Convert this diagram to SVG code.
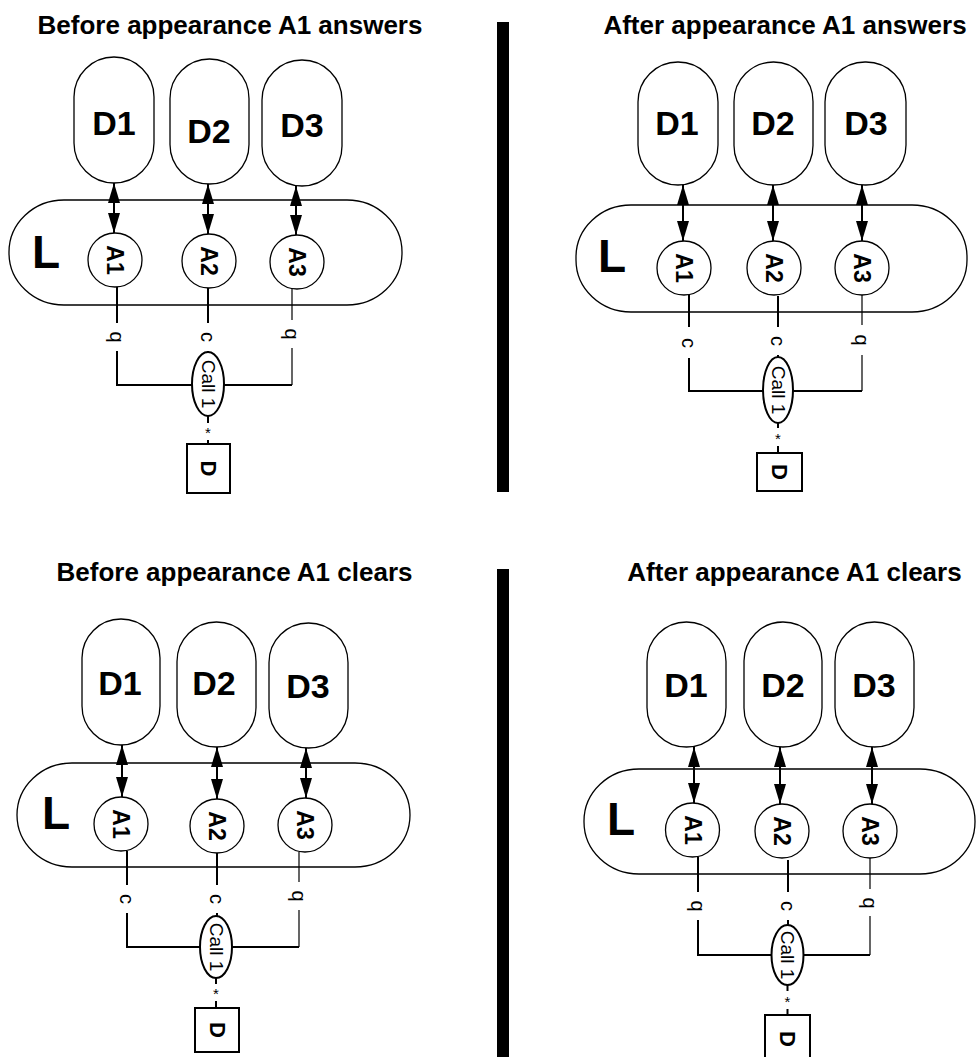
<svg xmlns="http://www.w3.org/2000/svg" width="977" height="1057" viewBox="0 0 977 1057">
<defs>
<marker id="ah" viewBox="0 0 20 12" refX="20" refY="6" markerWidth="20" markerHeight="12" markerUnits="userSpaceOnUse" orient="auto-start-reverse"><path d="M0,0 L20,6 L0,12 z" fill="#000"/></marker>
<style>
text{font-family:"Liberation Sans",Arial,sans-serif;fill:#000}
.title{font-size:26px;font-weight:bold;text-anchor:middle}
.pill{fill:#fff;stroke:#000;stroke-width:1.3}
.cont{fill:none;stroke:#000;stroke-width:1.3}
.circ{fill:#fff;stroke:#000;stroke-width:1.3}
.dl{font-size:34px;font-weight:bold;text-anchor:middle}
.ll{font-size:46px;font-weight:bold}
.al{font-size:23px;font-weight:bold;text-anchor:middle;dominant-baseline:central}
.lab{font-size:20px;text-anchor:middle;dominant-baseline:central}
.call{font-size:19px;text-anchor:middle;dominant-baseline:central}
.star{font-size:15px;text-anchor:middle;dominant-baseline:central}
.ell{fill:#fff;stroke:#000;stroke-width:2}
.dbox{fill:#fff;stroke:#000;stroke-width:2}
.dt{font-size:22px;font-weight:bold;text-anchor:middle;dominant-baseline:central}
.arr{stroke:#000;stroke-width:2;marker-start:url(#ah);marker-end:url(#ah)}
.ln{stroke:#000;stroke-width:2;fill:none}
.thin{stroke:#000;stroke-width:1.2;fill:none}
.bar{fill:#000}
</style>
</defs>
<rect width="977" height="1057" fill="#fff"/>

<g id="dividers">
<rect class="bar" x="497" y="22" width="12" height="470"/>
<rect class="bar" x="497" y="569" width="12" height="488"/>
</g>

<!-- Panel TL -->
<g id="panel-tl">
<text class="title" x="230" y="34">Before appearance A1 answers</text>
<g id="tl-L"><rect class="cont" x="9" y="200" width="393" height="105" rx="55" ry="52"/><text class="ll" x="32" y="268">L</text></g>
<g id="tl-D1"><rect class="pill" x="74" y="57" width="80" height="126" rx="40"/><text class="dl" x="114" y="135">D1</text></g>
<g id="tl-D2"><rect class="pill" x="170" y="59" width="79" height="125" rx="39.5"/><text class="dl" x="209" y="143">D2</text></g>
<g id="tl-D3"><rect class="pill" x="262" y="60" width="80" height="126" rx="40"/><text class="dl" x="302" y="137">D3</text></g>
<g id="tl-A1"><circle class="circ" cx="115" cy="260" r="27"/><text class="al" transform="rotate(90 115 260)" x="115" y="260">A1</text></g>
<g id="tl-A2"><circle class="circ" cx="209" cy="261" r="27"/><text class="al" transform="rotate(90 209 261)" x="209" y="261">A2</text></g>
<g id="tl-A3"><circle class="circ" cx="297" cy="262" r="27"/><text class="al" transform="rotate(90 297 262)" x="297" y="262">A3</text></g>
<g id="tl-call"><ellipse class="ell" cx="208" cy="384" rx="16" ry="32"/><text class="call" transform="rotate(90 208 384)" x="208" y="384">Call 1</text></g>
<g id="tl-D"><rect class="dbox" x="187" y="444" width="43" height="49"/><text class="dt" transform="rotate(90 208.5 468.5)" x="208.5" y="468.5">D</text></g>
<g id="tl-connectors">
<line class="arr" x1="114" y1="183" x2="114" y2="233"/>
<line class="arr" x1="208" y1="184" x2="208" y2="234"/>
<line class="arr" x1="296" y1="186" x2="296" y2="235"/>
<path class="ln" d="M117,287 V323 M117,351 V385 H192 M208,288 V323 M208,351 V352 M224,385 H292 M208,416 V423 M208,440 V444"/>
<path class="thin" d="M292,289 V320 M292,348 V385"/>
<text class="lab" transform="rotate(90 117 337)" x="117" y="337">q</text>
<text class="lab" transform="rotate(90 208 337)" x="208" y="337">c</text>
<text class="lab" transform="rotate(90 292 334)" x="292" y="334">q</text>
<text class="star" x="208" y="432">*</text>
</g>
</g>

<!-- Panel TR -->
<g id="panel-tr">
<text class="title" x="785" y="34">After appearance A1 answers</text>
<g id="tr-L"><rect class="cont" x="576" y="205" width="391" height="107" rx="55" ry="52"/><text class="ll" x="598" y="272">L</text></g>
<g id="tr-D1"><rect class="pill" x="638" y="62" width="80" height="123" rx="40"/><text class="dl" x="677" y="135">D1</text></g>
<g id="tr-D2"><rect class="pill" x="734" y="62" width="79" height="123" rx="39.5"/><text class="dl" x="773" y="135">D2</text></g>
<g id="tr-D3"><rect class="pill" x="825" y="62" width="81" height="123" rx="40"/><text class="dl" x="866" y="135">D3</text></g>
<g id="tr-A1"><circle class="circ" cx="684" cy="268" r="27"/><text class="al" transform="rotate(90 684 268)" x="684" y="268">A1</text></g>
<g id="tr-A2"><circle class="circ" cx="774" cy="268" r="27"/><text class="al" transform="rotate(90 774 268)" x="774" y="268">A2</text></g>
<g id="tr-A3"><circle class="circ" cx="862" cy="268" r="27"/><text class="al" transform="rotate(90 862 268)" x="862" y="268">A3</text></g>
<g id="tr-call"><ellipse class="ell" cx="778" cy="390" rx="15" ry="33"/><text class="call" transform="rotate(90 778 390)" x="778" y="390">Call 1</text></g>
<g id="tr-D"><rect class="dbox" x="757" y="453" width="45" height="38"/><text class="dt" transform="rotate(90 779.5 472)" x="779.5" y="472">D</text></g>
<g id="tr-connectors">
<line class="arr" x1="683" y1="185" x2="683" y2="241"/>
<line class="arr" x1="773" y1="185" x2="773" y2="241"/>
<line class="arr" x1="862" y1="185" x2="862" y2="241"/>
<path class="ln" d="M689,295 V327 M689,358 V391 H763 M778,296 V327 M778,355 V357 M793,391 H862 M778,423 V428 M778,446 V453"/>
<path class="thin" d="M862,295 V325 M862,355 V391"/>
<text class="lab" transform="rotate(90 689 343)" x="689" y="343">c</text>
<text class="lab" transform="rotate(90 778 341)" x="778" y="341">c</text>
<text class="lab" transform="rotate(90 862 340)" x="862" y="340">q</text>
<text class="star" x="778" y="438">*</text>
</g>
</g>

<!-- Panel BL -->
<g id="panel-bl">
<text class="title" x="234.5" y="581">Before appearance A1 clears</text>
<g id="bl-L"><rect class="cont" x="17" y="763" width="393" height="104" rx="55" ry="52"/><text class="ll" x="42" y="829">L</text></g>
<g id="bl-D1"><rect class="pill" x="82" y="619" width="78" height="126" rx="39"/><text class="dl" x="120" y="695">D1</text></g>
<g id="bl-D2"><rect class="pill" x="177" y="622" width="79" height="125" rx="39.5"/><text class="dl" x="214" y="695">D2</text></g>
<g id="bl-D3"><rect class="pill" x="269" y="623" width="79" height="125" rx="39.5"/><text class="dl" x="308" y="698">D3</text></g>
<g id="bl-A1"><circle class="circ" cx="121" cy="824" r="27"/><text class="al" transform="rotate(90 121 824)" x="121" y="824">A1</text></g>
<g id="bl-A2"><circle class="circ" cx="217" cy="826" r="27"/><text class="al" transform="rotate(90 217 826)" x="217" y="826">A2</text></g>
<g id="bl-A3"><circle class="circ" cx="305" cy="825" r="27"/><text class="al" transform="rotate(90 305 825)" x="305" y="825">A3</text></g>
<g id="bl-call"><ellipse class="ell" cx="216" cy="947" rx="16" ry="31"/><text class="call" transform="rotate(90 216 947)" x="216" y="947">Call 1</text></g>
<g id="bl-D"><rect class="dbox" x="195" y="1008" width="44" height="44"/><text class="dt" transform="rotate(90 217 1030)" x="217" y="1030">D</text></g>
<g id="bl-connectors">
<line class="arr" x1="122" y1="745" x2="122" y2="797"/>
<line class="arr" x1="217" y1="747" x2="217" y2="799"/>
<line class="arr" x1="306" y1="748" x2="306" y2="798"/>
<path class="ln" d="M127,851 V885 M127,913 V947 H200 M217,853 V885 M217,913 V916 M232,947 H299 M216,978 V984 M216,1001 V1008"/>
<path class="thin" d="M299,852 V882 M299,910 V947"/>
<text class="lab" transform="rotate(90 127 899)" x="127" y="899">c</text>
<text class="lab" transform="rotate(90 217 899)" x="217" y="899">c</text>
<text class="lab" transform="rotate(90 299 896)" x="299" y="896">q</text>
<text class="star" x="216" y="993">*</text>
</g>
</g>

<!-- Panel BR -->
<g id="panel-br">
<text class="title" x="794.5" y="581">After appearance A1 clears</text>
<g id="br-L"><rect class="cont" x="584" y="769" width="391" height="105" rx="55" ry="52"/><text class="ll" x="607" y="835">L</text></g>
<g id="br-D1"><rect class="pill" x="647" y="622" width="79" height="125" rx="39.5"/><text class="dl" x="686" y="697">D1</text></g>
<g id="br-D2"><rect class="pill" x="744" y="622" width="78" height="125" rx="39"/><text class="dl" x="783" y="697">D2</text></g>
<g id="br-D3"><rect class="pill" x="835" y="622" width="79" height="125" rx="39.5"/><text class="dl" x="874" y="697">D3</text></g>
<g id="br-A1"><circle class="circ" cx="692.5" cy="830" r="27"/><text class="al" transform="rotate(90 692.5 830)" x="692.5" y="830">A1</text></g>
<g id="br-A2"><circle class="circ" cx="782" cy="831" r="27"/><text class="al" transform="rotate(90 782 831)" x="782" y="831">A2</text></g>
<g id="br-A3"><circle class="circ" cx="870" cy="831" r="27"/><text class="al" transform="rotate(90 870 831)" x="870" y="831">A3</text></g>
<g id="br-call"><ellipse class="ell" cx="787.5" cy="955" rx="16" ry="30"/><text class="call" transform="rotate(90 787.5 955)" x="787.5" y="955">Call 1</text></g>
<g id="br-D"><rect class="dbox" x="765" y="1015" width="45" height="48"/><text class="dt" transform="rotate(90 787.5 1039)" x="787.5" y="1039">D</text></g>
<g id="br-connectors">
<line class="arr" x1="694" y1="747" x2="694" y2="803"/>
<line class="arr" x1="780" y1="747" x2="780" y2="804"/>
<line class="arr" x1="872" y1="747" x2="872" y2="804"/>
<path class="ln" d="M698,857 V892 M698,920 V955 H771 M788,860 V892 M788,920 V925 M804,955 H870 M787.5,985 V991 M787.5,1009 V1015"/>
<path class="thin" d="M870,858 V889 M870,916 V955"/>
<text class="lab" transform="rotate(90 698 906)" x="698" y="906">q</text>
<text class="lab" transform="rotate(90 788 906)" x="788" y="906">c</text>
<text class="lab" transform="rotate(90 870 903)" x="870" y="903">q</text>
<text class="star" x="787.5" y="1001">*</text>
</g>
</g>
</svg>
